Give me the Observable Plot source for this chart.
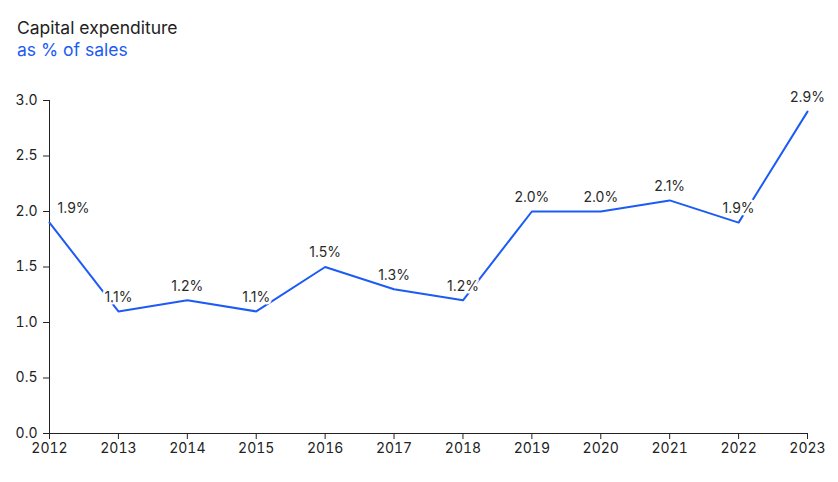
<!DOCTYPE html>
<html>
<head>
<meta charset="utf-8">
<script src="https://cdn.jsdelivr.net/npm/d3@7"></script>
<script src="https://cdn.jsdelivr.net/npm/@observablehq/plot@0.6"></script>
<style>
  body { margin: 0; background: #fff; font-family: Inter, "Noto Sans", sans-serif; }
  #head { padding: 17px 0 0 17px; height: 49px; }
  #title { font-size: 17.5px; line-height: 22px; color: #222; }
  #sub { font-size: 17.5px; line-height: 22px; color: #1c5bf5; }
</style>
</head>
<body>
<div id="head"><div id="title">Capital expenditure</div><div id="sub">as % of sales</div></div>
<div id="chart"></div>
<script>
const years = [2012, 2013, 2014, 2015, 2016, 2017, 2018, 2019, 2020, 2021, 2022, 2023];
const capexPct = [1.9, 1.1, 1.2, 1.1, 1.5, 1.3, 1.2, 2.0, 2.0, 2.1, 1.9, 2.9];
const yTicks = [0, 0.5, 1.0, 1.5, 2.0, 2.5, 3.0];

const data = years.map((y, i) => ({year: y, value: capexPct[i], first: i === 0}));
const blue = "#1c5bf5";

const chart = Plot.plot({
  width: 838,
  height: 416,
  marginTop: 34,
  marginBottom: 49,
  marginLeft: 49,
  marginRight: 31,
  style: {fontFamily: "Inter, 'Noto Sans', sans-serif", fontSize: "14px", color: "#222", background: "#fff"},
  x: {type: "linear", domain: [2012, 2023], ticks: years, tickFormat: d => String(d), label: null, tickSize: 6, tickPadding: 4},
  y: {domain: [0, 3], ticks: yTicks, tickFormat: d => d.toFixed(1), label: null, tickSize: 6, tickPadding: 6},
  marks: [
    Plot.ruleY([0], {stroke: "#222"}),
    Plot.ruleX([2012], {stroke: "#222"}),
    Plot.line(data, {x: "year", y: "value", stroke: blue, strokeWidth: 2}),
    Plot.text(data.filter(d => !d.first), {x: "year", y: "value", text: d => d.value.toFixed(1) + "%", dy: -14, fill: "#2a2a2a", stroke: "white", strokeWidth: 5, fontSize: 14}),
    Plot.text(data.filter(d => d.first), {x: "year", y: "value", text: d => d.value.toFixed(1) + "%", dy: -14, dx: 8, textAnchor: "start", fill: "#2a2a2a", stroke: "white", strokeWidth: 5, fontSize: 14})
  ]
});
document.getElementById("chart").appendChild(chart);
</script>
</body>
</html>
